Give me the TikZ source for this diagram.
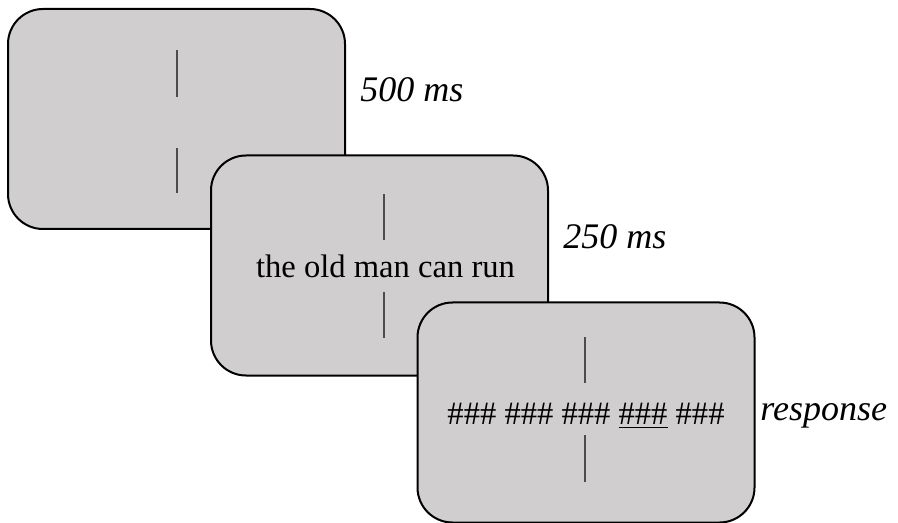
\documentclass[tikz,border=0pt]{standalone}
\usepackage{fontspec}
\setmainfont{Liberation Serif}
\definecolor{screengray}{RGB}{208,206,207}
\tikzset{
	screen/.style={rectangle, draw, line width=1pt, fill=screengray, rounded corners=17.5pt,
		minimum width=168.5pt, minimum height=110pt, inner sep=0,
		text height=12pt, text depth=0pt, font=\fontsize{16.3pt}{20pt}\selectfont},
	duration/.style={anchor=base west, inner sep=0, font=\fontsize{18pt}{22pt}\selectfont\itshape},
	fixline/.style={draw=black!70, line width=0.6pt},
}
\begin{document}
\begin{tikzpicture}[x=0.5pt, y=-0.5pt]
	\useasboundingbox (0,0) rectangle (898,523);
	% fixation
	\node[screen] (screen1) at (176.5,119) {};
	\draw[fixline] (screen1.center) ++(0.5,-69) -- ++(0,47);
	\draw[fixline] (screen1.center) ++(0.5,29) -- ++(0,45);
	\node[duration] (time1) at (360,102) {500 ms};
	% sentence
	\node[screen] (screen2) at (379.5,265.5) {\hspace{6pt}the old man can run};
	\draw[fixline] (screen2.center) ++(4.5,-71.5) -- ++(0,46);
	\draw[fixline] (screen2.center) ++(4.5,26.5) -- ++(0,46);
	\node[duration] (time2) at (563,249) {250 ms};
	% mask
	\node[screen] (screen3) at (586,412.5) {\#\#\# \#\#\# \#\#\# \underline{\#\#\#} \#\#\#};
	\draw[fixline] (screen3.center) ++(-1,-75.5) -- ++(0,46);
	\draw[fixline] (screen3.center) ++(-1,22.5) -- ++(0,47);
	\node[duration] (time3) at (760,420) {response};
\end{tikzpicture}
\end{document}
